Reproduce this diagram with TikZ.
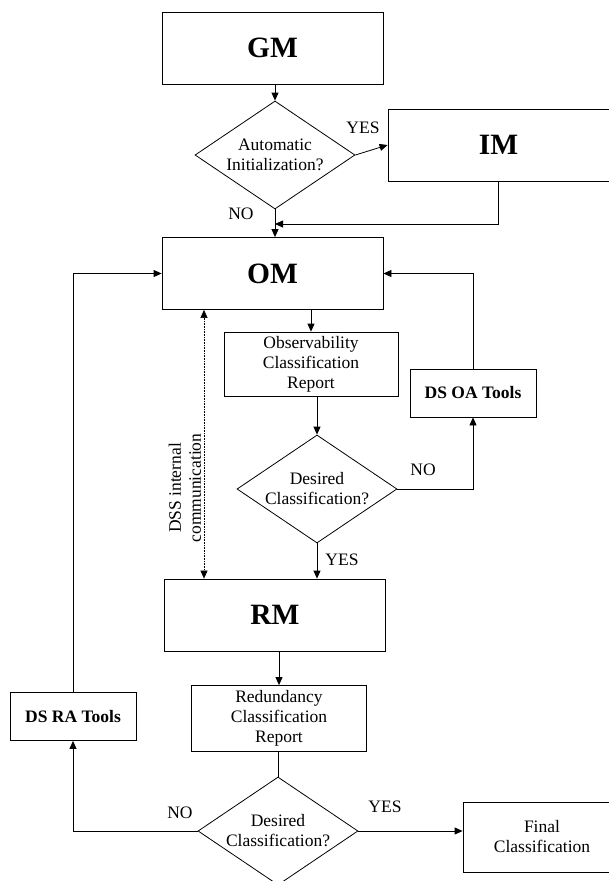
\documentclass[tikz,border=0pt]{standalone}
\usepackage{fontspec}
\setmainfont{Liberation Serif}
\usetikzlibrary{shapes.geometric,arrows.meta}

\begin{document}
\begin{tikzpicture}[
        x=1pt, y=-1pt, % ось y вниз
        line width=0.8pt,
        font=\fontsize{17.5}{20}\selectfont,
        every node/.style = {inner sep=0pt},
        block/.style = {rectangle, draw, align=center}, % прямоугольники
        module/.style = {block, minimum width=221pt, minimum height=72pt, font=\fontsize{29.5}{32}\selectfont\bfseries},
        report/.style = {block, minimum width=175pt, minimum height=66pt},
        tool/.style = {block, minimum width=126pt, minimum height=48pt, font=\fontsize{17.5}{20}\selectfont\bfseries},
        decision/.style = {diamond, draw, align=center, aspect=1.5, minimum width=160pt, minimum height=108pt}, % ромбы
        arrow/.style = {draw, -{Triangle[length=8pt, width=7pt]}},
    ]
    \useasboundingbox (0,0) rectangle (608,881);

    \node[module] (gm) at (272.5,48) {GM};
    \node[decision] (init) at (275,155) {Automatic\\Initialization?};
    \node[module] (im) at (498.5,145) {IM};
    \node[module] (om) at (272.5,273.5) {OM};
    \node[report, minimum width=174pt, minimum height=64pt] (obs) at (311,364) {Observability\\Classification\\Report};
    \node[decision] (des1) at (317,489) {Desired\\Classification?};
    \node[tool] (dsoa) at (473,393) {DS OA Tools};
    \node[module] (rm) at (275,615) {RM};
    \node[report] (red) at (279,718.5) {Redundancy\\Classification\\Report};
    \node[decision] (des2) at (278,831) {Desired\\Classification?};
    \node[block, minimum width=158pt, minimum height=70pt] (final) at (542,837) {Final\\Classification};
    \node[tool] (dsra) at (73,716.5) {DS RA Tools};

    % подписи
    \node (yes1) at (363,128) {YES};
    \node (no1) at (241,214) {NO};
    \node (no2) at (423,470) {NO};
    \node (yes2) at (342,560) {YES};
    \node (no3) at (180,813) {NO};
    \node (yes3) at (385,807) {YES};
    \node[rotate=90, align=center] (dss) at (185,488) {DSS internal\\communication};

    \coordinate (join) at (275,224);
    \coordinate (link) at (204,450);

    \draw[arrow] (gm.south -| init.north) -- (init.north);
    \draw[arrow] (init.east) -- (im.west);
    \draw[arrow] (init.south) -- (init.south |- om.north);
    \draw[arrow] (im.south) |- (join);
    \draw[arrow] (obs.north |- om.south) -- (obs.north);
    \draw[arrow] (des1.north |- obs.south) -- (des1.north);
    \draw[arrow] (des1.east) -| (dsoa.south);
    \draw[arrow] (dsoa.north) |- (om.east);
    \draw[arrow] (des1.south) -- (des1.south |- rm.north);
    \draw[densely dotted, line width=0.6pt, {Triangle[length=8pt, width=7pt]}-{Triangle[length=8pt, width=7pt]}] (om.south -| link) -- (rm.north -| link);
    \draw[arrow] (red.north |- rm.south) -- (red.north);
    \draw (des2.north |- red.south) -- (des2.north);
    \draw[arrow] (des2.east) -- (des2.east -| final.west);
    \draw[arrow] (des2.west) -| (dsra.south);
    \draw[arrow] (dsra.north) |- (om.west);
\end{tikzpicture}
\end{document}
